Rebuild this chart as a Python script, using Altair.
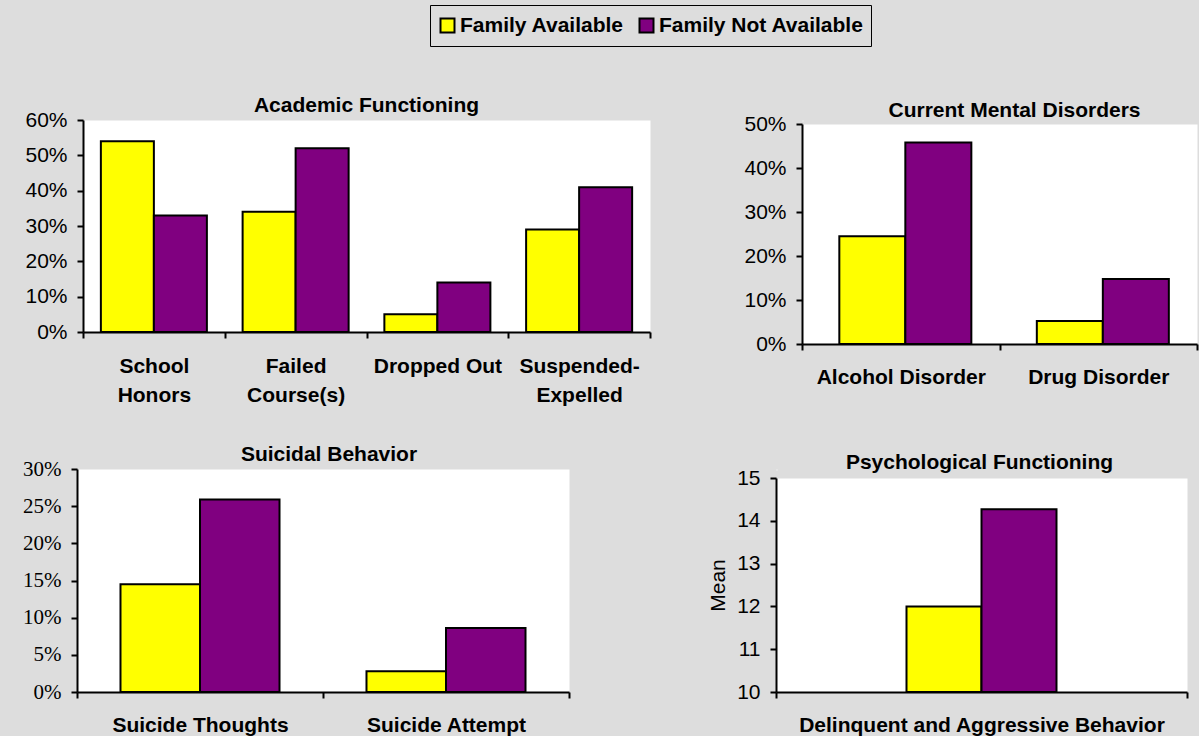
import altair as alt
import pandas as pd

SERIES = ["Family Available", "Family Not Available"]
COLORS = ["#FFFF00", "#800080"]
BG = "#DDDDDD"

academic_categories = ["School\nHonors", "Failed\nCourse(s)", "Dropped Out", "Suspended-\nExpelled"]
academic_available = [0.54, 0.34, 0.05, 0.29]
academic_not_available = [0.33, 0.52, 0.14, 0.41]
academic_ticks = [0.0, 0.1, 0.2, 0.3, 0.4, 0.5, 0.6]

mental_categories = ["Alcohol Disorder", "Drug Disorder"]
mental_available = [0.245, 0.052]
mental_not_available = [0.458, 0.148]
mental_ticks = [0.0, 0.1, 0.2, 0.3, 0.4, 0.5]

suicidal_categories = ["Suicide Thoughts", "Suicide Attempt"]
suicidal_available = [0.145, 0.028]
suicidal_not_available = [0.259, 0.086]
suicidal_ticks = [0.0, 0.05, 0.10, 0.15, 0.20, 0.25, 0.30]

psych_categories = ["Delinquent and Aggressive Behavior"]
psych_available = [12.0]
psych_not_available = [14.27]
psych_ticks = [10, 11, 12, 13, 14, 15]


def make_df(cats, avail, not_avail):
    rows = []
    for c, a, b in zip(cats, avail, not_avail):
        rows.append({"cat": c, "series": SERIES[0], "value": a})
        rows.append({"cat": c, "series": SERIES[1], "value": b})
    return pd.DataFrame(rows)


LEGEND = alt.Legend(
    title=None,
    orient="none",
    legendX=353,
    legendY=-115,
    direction="horizontal",
    symbolType="square",
    symbolSize=196,
    symbolStrokeColor="black",
    symbolStrokeWidth=2,
    symbolOpacity=1,
    labelFont="Liberation Sans",
    labelFontSize=21,
    labelFontWeight="bold",
    labelColor="black",
    labelLimit=400,
    strokeColor="black",
    fillColor=BG,
    padding=7,
    clipHeight=27,
    columnPadding=12,
    labelOffset=2,
)


def panel(cats, avail, not_avail, ticks, fmt, width, height, offset_pad, title,
          title_dx, title_offset, label_font="Liberation Sans", y_title=None,
          x_label_padding=17, offset_domain=None, offset_align=None):
    df = make_df(cats, avail, not_avail)
    y_axis_kwargs = dict(values=ticks, format=fmt, labelFont=label_font)
    y_axis_kwargs["title"] = y_title
    offset_scale = dict(paddingInner=0, paddingOuter=offset_pad)
    if offset_domain is not None:
        offset_scale["domain"] = offset_domain
    if offset_align is not None:
        offset_scale["align"] = offset_align
    return alt.Chart(df).mark_bar(stroke="black", strokeWidth=2, opacity=1).encode(
        x=alt.X(
            "cat:N",
            sort=cats,
            scale=alt.Scale(paddingInner=0, paddingOuter=0),
            axis=alt.Axis(
                title=None,
                labelAngle=0,
                tickBand="extent",
                labelFontWeight="bold",
                labelPadding=x_label_padding,
                labelLimit=500,
                labelOverlap=False,
                labelLineHeight=29,
                labelExpr="split(datum.label, '\\n')",
            ),
        ),
        xOffset=alt.XOffset(
            "series:N", sort=SERIES, scale=alt.Scale(**offset_scale),
        ),
        y=alt.Y(
            "value:Q",
            scale=alt.Scale(domain=[ticks[0], ticks[-1]], zero=False, nice=False),
            axis=alt.Axis(**y_axis_kwargs),
        ),
        y2=alt.datum(ticks[0]),
        color=alt.Color(
            "series:N",
            sort=SERIES,
            scale=alt.Scale(domain=SERIES, range=COLORS),
            legend=LEGEND,
        ),
    ).properties(
        width=width,
        height=height,
        title=alt.TitleParams(
            title, dx=title_dx, offset=title_offset, frame="group",
            baseline="alphabetic", anchor="middle",
        ),
    )


def spacer():
    return alt.Chart(pd.DataFrame({"s": [0]})).mark_point(opacity=0).encode(
        x=alt.value(0), y=alt.value(0)
    ).properties(width=1, height=1)


academic = panel(academic_categories, academic_available, academic_not_available,
                 academic_ticks, ".0%", 567, 212, 0.337, "Academic Functioning", 0, -24)
mental = panel(mental_categories, mental_available, mental_not_available,
               mental_ticks, ".0%", 395, 220, 0.496, "Current Mental Disorders", 15, -25,
               x_label_padding=16, offset_align=0.57)
suicidal = panel(suicidal_categories, suicidal_available, suicidal_not_available,
                 suicidal_ticks, ".0%", 492, 223, 0.547, "Suicidal Behavior", 6, -24,
                 label_font="Liberation Serif", x_label_padding=16)
psych = panel(psych_categories, psych_available, psych_not_available,
              psych_ticks, "d", 411, 214, 0.74, "Psychological Functioning", -2, -23,
              y_title="Mean", x_label_padding=16,
              offset_domain=["_left"] + SERIES + ["_right"])

IND = dict(xOffset="independent")

academic_cell = alt.hconcat(spacer(), academic, spacing=5, bounds="flush").resolve_scale(**IND)
mental_cell = alt.vconcat(spacer(), mental, spacing=3, bounds="flush").resolve_scale(**IND)
psych_cell = alt.vconcat(spacer(), psych, spacing=8, bounds="flush").resolve_scale(**IND)

row1 = alt.hconcat(academic_cell, mental_cell, spacing=725, bounds="flush").resolve_scale(**IND)
row2 = alt.hconcat(suicidal, psych_cell, spacing=207, bounds="flush").resolve_scale(**IND)

chart = alt.vconcat(row1, row2, spacing=349, bounds="flush").resolve_scale(**IND).properties(
    padding={"left": 22, "top": 4, "right": 0, "bottom": 0},
    background=BG,
).configure_view(
    fill="white", stroke="transparent"
).configure_axis(
    domainColor="black", domainWidth=2, tickColor="black", tickWidth=2,
    tickSize=6, labelColor="black", labelFont="Liberation Sans", labelFontSize=21,
    labelPadding=10, grid=False, titleFont="Liberation Sans", titleFontSize=21,
    titleFontWeight="normal", titleColor="black", titlePadding=8,
).configure_title(
    font="Liberation Sans", fontSize=21, fontWeight="bold", color="black",
)

chart.save("out.html", embed_options={"renderer": "svg", "actions": False})
